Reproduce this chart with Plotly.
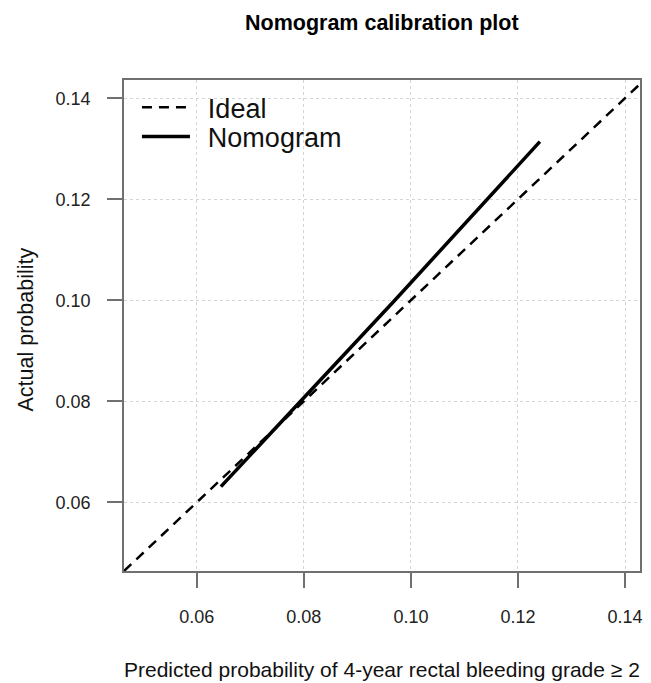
import plotly.graph_objects as go

ideal_x = [0.0464, 0.1428]
ideal_y = [0.0464, 0.1428]
nomo_x = [0.0645, 0.0793, 0.0970, 0.1241]
nomo_y = [0.0631, 0.0800, 0.1000, 0.1314]
tick_vals = [0.06, 0.08, 0.10, 0.12, 0.14]
tick_text = ["0.06", "0.08", "0.10", "0.12", "0.14"]
x_range = [0.0464, 0.1428]
y_range = [0.0464, 0.1436]

FONT = "Liberation Sans, Arial, Helvetica, sans-serif"
PAD = "\u00a0\u2009"

fig = go.Figure()
fig.add_trace(go.Scatter(x=ideal_x, y=ideal_y, mode="lines", name=PAD + "Ideal",
                         legend="legend",
                         line=dict(color="black", width=2.5, dash="10px,7px")))
fig.add_trace(go.Scatter(x=nomo_x, y=nomo_y, mode="lines", name=PAD + "Nomogram",
                         legend="legend2",
                         line=dict(color="black", width=3.5)))

axis_common = dict(
    tickvals=tick_vals, ticktext=tick_text,
    showgrid=True, gridcolor="#d4d4d4", griddash="dot", gridwidth=1,
    showline=True, linecolor="#707070", linewidth=1.5, mirror=True,
    ticks="outside", ticklen=15, tickcolor="#707070", tickwidth=1.5,
    tickfont=dict(family=FONT, size=18, color="#222222"),
    zeroline=False, fixedrange=True,
)
fig.update_xaxes(range=x_range, **axis_common, ticklabelstandoff=14)
fig.update_yaxes(range=y_range, **axis_common, ticklabelstandoff=13)

legend_common = dict(xanchor="left", yanchor="middle", bgcolor="rgba(0,0,0,0)",
                     font=dict(family=FONT, size=27, color="#111111"),
                     itemwidth=48, borderwidth=0)

fig.update_layout(
    width=643, height=675,
    margin=dict(l=116, r=9, t=72, b=112),
    paper_bgcolor="white", plot_bgcolor="white",
    showlegend=True,
    legend=dict(x=0.0251, y=0.9436, **legend_common),
    legend2=dict(x=0.0251, y=0.8839, **legend_common),
    annotations=[
        dict(text="<b>Nomogram calibration plot</b>", xref="paper", yref="paper",
             x=0.5, y=1, yshift=57, xanchor="center", yanchor="middle", showarrow=False,
             font=dict(family=FONT, size=21.5, color="black")),
        dict(text="Predicted probability of 4-year rectal bleeding grade \u2265 2",
             xref="paper", yref="paper", x=0.5, y=0, yshift=-98,
             xanchor="center", yanchor="middle", showarrow=False,
             font=dict(family=FONT, size=21, color="#111111")),
        dict(text="Actual probability", xref="paper", yref="paper",
             x=0, xshift=-99, y=0.5, yshift=-4, textangle=-90, xanchor="center", yanchor="middle",
             showarrow=False, font=dict(family=FONT, size=21.5, color="#111111")),
    ],
)

fig.write_html("out.html")
